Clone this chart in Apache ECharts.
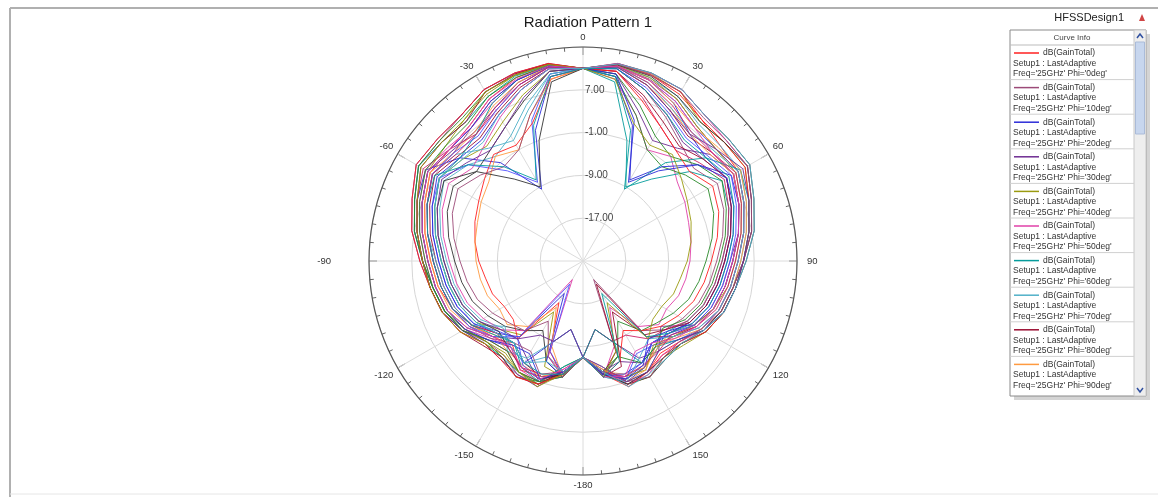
<!DOCTYPE html>
<html><head><meta charset="utf-8">
<script src="https://cdn.jsdelivr.net/npm/echarts@6/dist/echarts.min.js"></script>
<style>html,body{margin:0;padding:0;background:#fff}#c{width:1158px;height:497px}</style>
</head><body><div id="c"></div>
<script>
// Theta sweep (deg)
const THETA = [-180,-170,-160,-150,-140,-130,-120,-110,-100,-90,-80,-70,-60,-50,-40,-30,-20,-10,0,10,20,30,40,50,60,70,80,90,100,110,120,130,140,150,160,170,180];
// Phi cuts explicitly read (deg)
const PHI_LIST = [0,10,20,30,40,50,60,70,80,90,100,110,120,130,140,150,160,170];
// dB(GainTotal) per phi cut, theta -180..180
const G_PHI0   = [-7,-3.5,-2,-1.5,-4.5,-3,-1,1,2.5,3.5,5,6.5,8,7.5,8,10,11.5,12.2,11,12.3,12,11,9.5,8.5,8.5,7,5.5,4,3,2,0.5,-1.5,-2.5,-1,-0.5,-3.5,-7];
const G_PHI10  = [-7,-4,-0.5,-0.5,-2,-1.5,1,2.5,3.5,5,7,8.5,10.5,10,10.5,12,12.3,12.5,11,11.5,9,6,3.5,2,4,3,1.5,0,-1,-2,-3.5,-5,-8,-21,-6,-3.5,-7];
const G_PHI20  = [-7,-12,-9,-3,-4,-2,1,3,4,5,6.5,8,9,5,-1,-9.5,1,10,11,12,11,9,6,5,6,4.5,3,1.5,0.5,-0.5,-2,-4,-5,-2,-1,-5,-7];
const G_PHI30  = [-7,-3,-1,-4,-6,-3,0,2,3,4,5.5,7,8.5,7,6.5,8,10.5,11.8,11,10.5,5,1,2.5,6,7.5,6,4.5,2.5,1.5,0.5,-1,-6,-3,-4,-9,-12,-7];
const G_PHI40  = [-7,-3,-4,-14,-7,-5,-2,-0.5,0.5,1.5,3,4.5,6,4.5,3,5,8,11,11,12.4,12.2,11.5,9,9.5,10,8,6.5,5,4,3,1.5,-0.5,-1.5,0,-0.5,-4,-7];
const G_PHI50  = [-7,-4.5,-1,-1.5,-4,-2.5,0.5,2.5,3.5,4.5,6,7.5,9,8,7.5,9,11,12,11,9.5,4,-1,0.5,-2,-3,-4,-4.5,-5,-5.5,-6,-7,-6.5,-9,-15,-8,-3,-7];
const G_PHI60  = [-7,-3.5,-0.5,-1,-1.5,-1,1,2.5,3.5,5,7,8.5,10.5,9.5,9,10.5,11.8,12.2,11,9,-1,-9,-5,1,5,4,2.5,1,0,-1,-2.5,-4.5,-3.5,-2,-1.5,-3.5,-7];
const G_PHI70  = [-7,-4,-6,-3,-4,-5.5,-3,-1.5,-0.5,0.5,2,3.5,5,3,0.5,2,6,10.5,11,12,11.5,10.5,8.5,8.5,9,7.5,6,4.5,3.5,2.5,1,-2,-3,-1,-1,-3,-7];
const G_PHI80  = [-7,-3.5,-2,-3,-5,-4,-1,0.5,1.5,2.5,4,5.5,7,5.5,5,7,9.5,11.5,11,11.8,10,7.5,5.5,6.5,7.5,6,4.5,3,2,1,-0.5,-3,-6.5,-20,-7,-3.5,-7];
const G_PHI90  = [-7,-4,-2,-2.5,-3,-3.5,-0.5,1.5,2.5,3.5,5,6.5,8,6.5,6.5,8.5,10.5,12,11,11.8,10,8,6,6,7.5,6,4.5,3,2,1,-1,-4,-3.5,-2,-2.5,-4,-7];
const G_PHI100 = [-7,-3,-5,-10,-8,-6,-4.5,-3,-2,-1,0.5,2,3,1,2,4,7,11,11,12.5,12.4,12,10.5,10.5,11,9,7.5,5.5,4,3,1.5,-1,-1,0,-0.5,-3.5,-7];
const G_PHI110 = [-7,-5,-1,0,-1.5,-1.5,0.5,2.5,3.5,5,7,8.5,10.5,10,10,11.5,12,12.3,11,10,4,-1,-2,0,2,1,-0.5,-2,-3,-4,-5.5,-7,-8,-12,-6,-3,-7];
const G_PHI120 = [-7,-3.5,-1.5,-2.5,-6,-4.5,-1.5,0,1,2,3.5,5,6,3,-3,-8,3,10.5,11,12,11,9.5,7.5,7.5,8.5,7,5.5,4,3,2,0.5,-2,-4.5,-5,-1.5,-4,-7];
const G_PHI130 = [-7,-4,-1,-1,-3,-2,1,3,4,5,6.5,8,9.5,7.5,6,7.5,10,11.8,11,11,7.5,4,2,3.5,5.5,4,2.5,1,0,-1,-2.5,-5,-6,-9,-9,-12,-7];
const G_PHI140 = [-7,-3,-7,-16,-6,-8,-8,-7,-6.5,-5.5,-4.5,-3.5,-2.5,-1,1,0,2.5,9.5,11,12.3,12,11.5,9.5,9.5,10,8,6.5,5,4,3,1.5,-1,-2,-1,0,-3.5,-7];
const G_PHI150 = [-7,-3,-2,-5.5,-5,-2.5,-0.5,1,2,3,4.5,6,7.5,6.5,7.5,9.5,11,12,11,12,11.2,10,8,7.5,8.5,7,5.5,4,3,2,0,-3,-4,-2,-1.5,-4.5,-7];
const G_PHI160 = [-7,-3,-5,-18,-6.5,-4,-1.5,0,1,2,3.5,5,6.5,5,4.5,6.5,9,11.5,11,10,2,-7.5,-2,3,7,6,4.5,3,2,1,-1,-3.5,-5,-3,-2.5,-3.5,-7];
const G_PHI170 = [-7,-4,0,-0.5,-1,-1,1,3,4,5.5,7.5,9,11,10.5,10.5,12,12.4,12.4,11,11.5,9,6.5,4,4.5,6,4.5,3,1.5,0.5,-0.5,-2,-4,-5,-3,-5,-4,-7];
const GAIN_CUTS = [G_PHI0,G_PHI10,G_PHI20,G_PHI30,G_PHI40,G_PHI50,G_PHI60,G_PHI70,G_PHI80,G_PHI90,G_PHI100,G_PHI110,G_PHI120,G_PHI130,G_PHI140,G_PHI150,G_PHI160,G_PHI170];
// Radial scale (dB)
const R_MIN = -25, R_MAX = 15, R_STEP = 8;
const TITLE = 'Radiation Pattern 1';
const DESIGN = 'HFSSDesign1';
const COLORS = ['#ff2020','#9c4a78','#2c2cd8','#6e2c92','#9a9a10','#e040a8','#069c9c','#50b0c8','#9a0c30','#ff9a40','#333333','#2a8a2a','#5252ff','#cc2266'];

// Build curve list: phi cuts as read, plus phi+180 cuts (same data, theta mirrored: G(th, phi+180) = G(-th, phi))
const curves = [];
PHI_LIST.forEach((p, i) => curves.push({ phi: p, vals: GAIN_CUTS[i] }));
PHI_LIST.forEach((p, i) => curves.push({ phi: p + 180, vals: GAIN_CUTS[i].slice().reverse() }));

const FONT = '"Liberation Sans", Arial, sans-serif';
const CX = 583, CY = 261, R = 214;

const series = curves.map((c, i) => ({
  type: 'line', coordinateSystem: 'polar', polarIndex: 0,
  name: "Phi='" + c.phi + "deg'",
  data: c.vals.map((v, k) => [v, THETA[k]]),
  symbol: 'none', showSymbol: false, silent: true, animation: false,
  lineStyle: { width: 1, color: COLORS[i % COLORS.length], opacity: 0.9 },
  itemStyle: { color: COLORS[i % COLORS.length] }, z: 3
}));

// Legend box (graphic)
const LX = 1010, LY = 30, LW = 124, LH = 366, ENTRY_H = 34.6, HEAD_H = 15;
const g = [];
g.push({ type: 'rect', shape: { x: LX + 4, y: LY + 4, width: LW + 12, height: LH }, style: { fill: '#d4d4d4' }, z: 10 });
g.push({ type: 'rect', shape: { x: LX, y: LY, width: LW + 12, height: LH }, style: { fill: '#fff', stroke: '#8a8a8a', lineWidth: 1 }, z: 11 });
g.push({ type: 'text', style: { text: 'Curve Info', x: LX + LW / 2, y: LY + 8, align: 'center', verticalAlign: 'middle', font: '8px ' + FONT, fill: '#444' }, z: 12 });
g.push({ type: 'line', shape: { x1: LX, y1: LY + HEAD_H, x2: LX + LW, y2: LY + HEAD_H }, style: { stroke: '#bbb', lineWidth: 1 }, z: 12 });
g.push({ type: 'rect', shape: { x: LX + LW, y: LY, width: 12, height: LH }, style: { fill: '#eeeeee', stroke: '#c8c8c8', lineWidth: 1 }, z: 12 });
g.push({ type: 'rect', shape: { x: LX + LW + 1.5, y: LY + 12, width: 9, height: 92 }, style: { fill: '#c7d6ee', stroke: '#aabbd8', lineWidth: 1 }, z: 13 });
g.push({ type: 'polyline', shape: { points: [[LX + LW + 3, LY + 8], [LX + LW + 6, LY + 4], [LX + LW + 9, LY + 8]] }, style: { stroke: '#3050a0', lineWidth: 1.5, fill: null }, z: 13 });
g.push({ type: 'polyline', shape: { points: [[LX + LW + 3, LY + LH - 8], [LX + LW + 6, LY + LH - 4], [LX + LW + 9, LY + LH - 8]] }, style: { stroke: '#3050a0', lineWidth: 1.5, fill: null }, z: 13 });
for (let i = 0; i < 10; i++) {
  const top = LY + HEAD_H + i * ENTRY_H;
  const col = COLORS[i % COLORS.length];
  g.push({ type: 'line', shape: { x1: LX + 4, y1: top + 8, x2: LX + 29, y2: top + 8 }, style: { stroke: col, lineWidth: 1.5 }, z: 12 });
  g.push({ type: 'text', style: { text: 'dB(GainTotal)', x: LX + 33, y: top + 8, verticalAlign: 'middle', font: '8.5px ' + FONT, fill: '#333' }, z: 12 });
  g.push({ type: 'text', style: { text: 'Setup1 : LastAdaptive', x: LX + 3, y: top + 18.5, verticalAlign: 'middle', font: '8.5px ' + FONT, fill: '#333' }, z: 12 });
  g.push({ type: 'text', style: { text: "Freq='25GHz' Phi='" + curves[i].phi + "deg'", x: LX + 3, y: top + 29, verticalAlign: 'middle', font: '8.5px ' + FONT, fill: '#333' }, z: 12 });
  if (i < 9) g.push({ type: 'line', shape: { x1: LX, y1: top + ENTRY_H, x2: LX + LW, y2: top + ENTRY_H }, style: { stroke: '#d0d0d0', lineWidth: 1 }, z: 12 });
}
g.push({ type: 'line', shape: { x1: 10, y1: 8, x2: 1158, y2: 8 }, style: { stroke: '#b0b0b0', lineWidth: 2 }, z: 1 });
g.push({ type: 'line', shape: { x1: 10, y1: 8, x2: 10, y2: 497 }, style: { stroke: '#b0b0b0', lineWidth: 2 }, z: 1 });
g.push({ type: 'line', shape: { x1: 10, y1: 494, x2: 1158, y2: 494 }, style: { stroke: '#e6e6e6', lineWidth: 1 }, z: 1 });
g.push({ type: 'text', style: { text: DESIGN, x: 1124, y: 18, align: 'right', verticalAlign: 'middle', font: '11px ' + FONT, fill: '#222' }, z: 12 });
g.push({ type: 'polygon', shape: { points: [[1139, 21], [1145, 21], [1142, 14]] }, style: { fill: '#d04545' }, z: 12 });

const LBL = { color: '#333', fontSize: 9.5, fontFamily: FONT };
const option = {
  animation: false,
  backgroundColor: '#fff',
  title: { text: TITLE, left: CX, top: 10, textAlign: 'center', textStyle: { fontSize: 15, fontWeight: 'normal', fontFamily: FONT, color: '#1a1a1a' } },
  polar: [
    { center: [CX, CY], radius: R },
    { center: [CX, CY], radius: R }
  ],
  angleAxis: [
    { polarIndex: 0, type: 'value', min: -180, max: 180, interval: 30, startAngle: -90, clockwise: true,
      axisLine: { show: true, lineStyle: { color: '#555', width: 1.2 } },
      axisTick: { show: true, inside: true, length: 8, lineStyle: { color: '#555' } },
      minorTick: { show: true, splitNumber: 6, length: 4, lineStyle: { color: '#666' } },
      axisLabel: { show: true, margin: 5, color: '#333', fontSize: 9.5, fontFamily: FONT,
        formatter: v => (v === 180 ? '' : v === -90 ? '{l|-90}' : v === 90 ? '{r|90}' : String(v)),
        rich: { l: Object.assign({ padding: [0, 33, 0, 0] }, LBL), r: Object.assign({ padding: [0, 0, 0, 5] }, LBL) } },
      splitLine: { show: true, lineStyle: { color: '#dcdcdc', width: 1 } } },
    { polarIndex: 1, type: 'value', min: -180, max: 180, startAngle: 90, show: false }
  ],
  radiusAxis: [
    { polarIndex: 0, type: 'value', min: R_MIN, max: R_MAX, interval: R_STEP,
      axisLine: { show: false }, axisTick: { show: false }, axisLabel: { show: false },
      splitLine: { show: true, lineStyle: { color: '#d6d6d6', width: 1 } } },
    { polarIndex: 1, type: 'value', min: R_MIN, max: R_MAX, interval: R_STEP,
      axisLine: { show: false }, axisTick: { show: false }, splitLine: { show: false },
      axisLabel: { show: true, showMinLabel: false, showMaxLabel: false, color: '#444', fontSize: 10, fontFamily: FONT,
        margin: -2, align: 'left', verticalAlign: 'middle', padding: [0, 0, 6, 0],
        formatter: v => v.toFixed(2) } }
  ],
  series: series,
  graphic: g
};
const chart = echarts.init(document.getElementById('c'));
chart.setOption(option);
</script></body></html>
